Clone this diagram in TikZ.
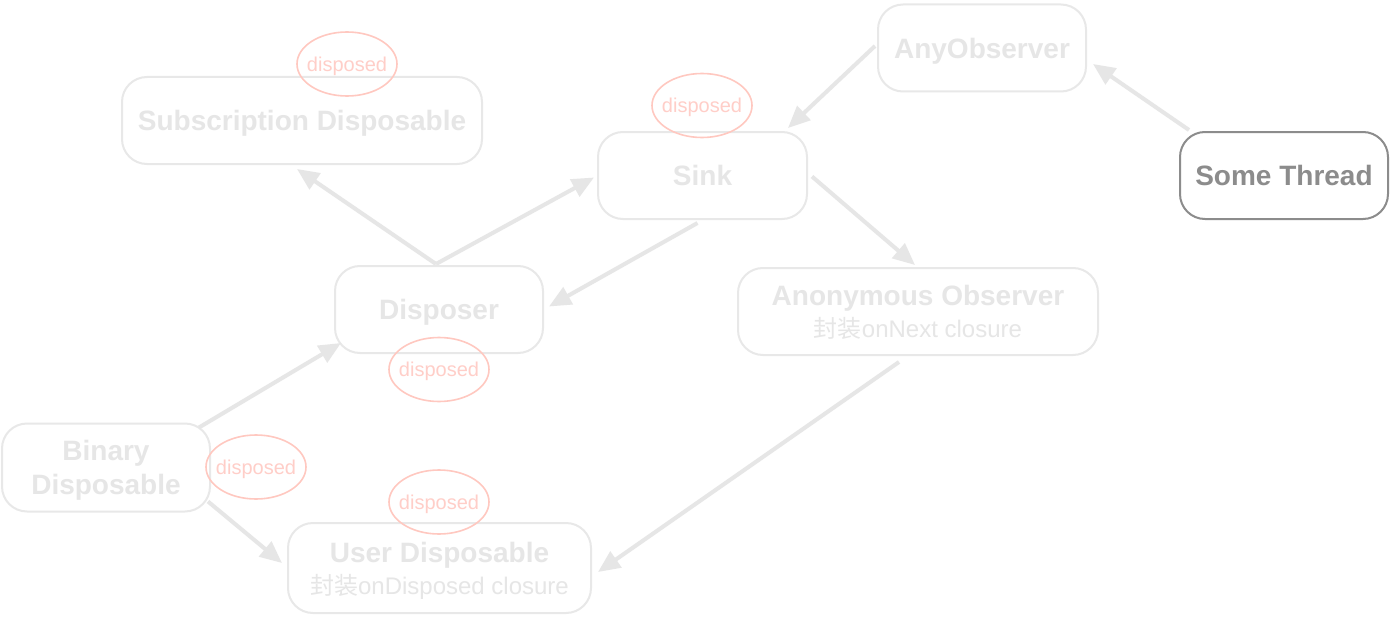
\documentclass[tikz,border=0pt]{standalone}
\usepackage{fontspec}
\setmainfont{Liberation Sans}
\newfontfamily\cjk{Noto Sans CJK SC}
\usetikzlibrary{arrows.meta,shapes.geometric}
\definecolor{faded}{HTML}{E6E6E6}
\definecolor{fadedline}{HTML}{E8E8E8}
\definecolor{pinkred}{HTML}{FFC8C0}
\definecolor{pinktext}{HTML}{FFCEC8}
\definecolor{darkgray}{HTML}{8C8C8C}
\newcommand{\subtextfont}{\fontsize{24}{28}\selectfont\mdseries}
\begin{document}
\begin{tikzpicture}[x=1pt,y=-1pt,
  box/.style={draw=fadedline,line width=2pt,rounded corners=25pt,inner sep=0pt,text depth=0pt,
    text=faded,font=\fontsize{28}{34}\selectfont\bfseries,align=center,minimum height=87pt},
  disp/.style={draw=pinkred,line width=1.6pt,ellipse,minimum width=100pt,minimum height=64pt,
    inner xsep=-6pt,inner ysep=0pt,text depth=0pt,text=pinktext,font=\fontsize{20}{24}\selectfont},
  conn/.style={draw=faded,line width=4pt,-{Triangle[length=22pt,width=19pt]}}
]
\fill[white] (0,0) rectangle (1390,618);
\useasboundingbox (0,0) rectangle (1390,618);

\node[box,minimum width=360pt] (subd) at (302,120.5) {Subscription Disposable};
\node[box,minimum width=208pt] (ao) at (982,48) {AnyObserver};
\node[box,minimum width=208pt,draw=darkgray,text=darkgray] (st) at (1284,175.5) {Some Thread};
\node[box,minimum width=209pt] (sink) at (702.5,175.5) {Sink};
\node[box,minimum width=208pt] (dsp) at (439,309.5) {Disposer};
\node[box,minimum width=360pt] (anon) at (918,311.5) {Anonymous Observer\\[-2pt]{\subtextfont{\cjk 封装}onNext closure}};
\node[box,minimum width=208pt,minimum height=88pt] (bin) at (106,467.5) {Binary\\Disposable};
\node[box,minimum width=303pt,minimum height=90pt] (ud) at (439.5,568) {User Disposable\\[-2pt]{\subtextfont{\cjk 封装}onDisposed closure}};

\node[disp] (e1) at (347,64) {disposed};
\node[disp] (e2) at (702,105.5) {disposed};
\node[disp] (e3) at (439,369.5) {disposed};
\node[disp] (e4) at (256,467) {disposed};
\node[disp] (e5) at (439,502) {disposed};

\draw[conn] ([shift={(10,-1)}]st.north west) -- ([shift={(6,16)}]ao.east);
\draw[conn] ([shift={(-2,-2)}]ao.west) -- ([shift={(-20,-3)}]sink.north east);
\draw[conn] ([shift={(-3,-1)}]dsp.north) -- ([shift={(-5,4)}]subd.south);
\draw[conn] ([shift={(-3,-1)}]dsp.north) -- ([shift={(-3,2)}]sink.west);
\draw[conn] ([shift={(-5,3)}]sink.south) -- ([shift={(5,-3)}]dsp.east);
\draw[conn] ([shift={(4,1)}]sink.east) -- ([shift={(-3,-2)}]anon.north);
\draw[conn] ([shift={(-12,5)}]bin.north east) -- ([shift={(7,-11)}]dsp.south west);
\draw[conn] ([shift={(-3,-11)}]bin.south east) -- ([shift={(-5,-5)}]ud.west);
\draw[conn] ([shift={(-19,6)}]anon.south) -- ([shift={(6,4)}]ud.east);
\end{tikzpicture}
\end{document}
